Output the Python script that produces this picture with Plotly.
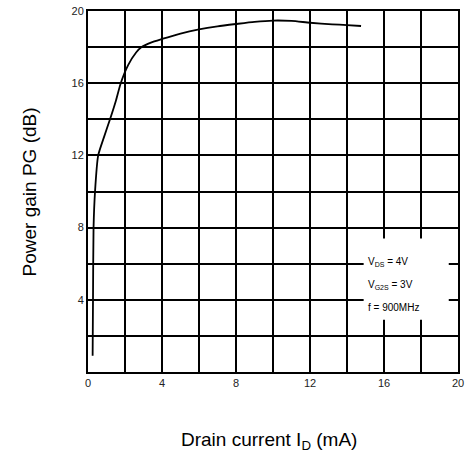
import plotly.graph_objects as go

# Curve data
drain_current = [0.25, 0.27, 0.3, 0.38, 0.55, 0.86, 1.19, 1.5, 1.77, 2.17, 2.6, 2.9, 3.4, 4.0, 5.0, 6.0, 7.0, 8.0, 9.0, 10.0, 11.0, 12.0, 13.2, 14.0, 14.76]
power_gain = [0.9, 4.0, 8.0, 10.0, 12.0, 13.0, 14.0, 15.0, 16.0, 17.0, 17.7, 18.0, 18.25, 18.45, 18.75, 18.98, 19.15, 19.28, 19.4, 19.47, 19.45, 19.35, 19.26, 19.22, 19.17]

x_tick_vals = [0, 4, 8, 12, 16, 20]
y_tick_vals = [4, 8, 12, 16, 20]

cond_lines = ["V<sub>DS</sub> = 4V", "V<sub>G2S</sub> = 3V", "f = 900MHz"]
cond_y = [6.1, 4.8, 3.55]

fig = go.Figure()
fig.add_trace(go.Scatter(
    x=drain_current, y=power_gain, mode="lines",
    line=dict(color="black", width=1.8, shape="spline", smoothing=0.6),
    showlegend=False, hoverinfo="skip"))

fig.add_shape(type="rect", xref="x", yref="y", x0=14.9, x1=19.5, y0=2.9, y1=7.4,
              fillcolor="white", line=dict(width=0), layer="above")

for t, yy in zip(cond_lines, cond_y):
    fig.add_annotation(x=15.05, y=yy, xref="x", yref="y", text=t, showarrow=False,
                       xanchor="left", yanchor="middle",
                       font=dict(family="Liberation Sans", size=10, color="black"))

fig.add_annotation(x=0.49, y=-0.19, xref="paper", yref="paper",
                   text="Drain current I<sub>D</sub> (mA)", showarrow=False,
                   xanchor="center", yanchor="middle",
                   font=dict(family="Liberation Sans", size=19, color="black"))
fig.add_annotation(x=-0.157, y=0.5, xref="paper", yref="paper",
                   text="Power gain PG (dB)", showarrow=False, textangle=-90,
                   xanchor="center", yanchor="middle",
                   font=dict(family="Liberation Sans", size=19, color="black"))

axis_common = dict(
    range=[0, 20], showgrid=True, gridcolor="black", gridwidth=2,
    showline=True, linecolor="black", linewidth=2, mirror=True, ticks="",
    zeroline=False, tickfont=dict(family="Liberation Sans", size=11, color="#222"),
    minor=dict(tick0=0, dtick=2, showgrid=True, gridcolor="black", gridwidth=2, ticks=""),
    automargin=False, fixedrange=True)

fig.update_xaxes(**axis_common, tickmode="array", tickvals=x_tick_vals)
fig.update_yaxes(**axis_common, tickmode="array", tickvals=y_tick_vals)

fig.update_layout(
    width=476, height=458,
    margin=dict(l=88, r=18, t=11, b=86),
    paper_bgcolor="white", plot_bgcolor="white",
    showlegend=False)

# remove the default page body margin so the figure sits at the window origin
fig.write_html("out.html", config={"displayModeBar": False},
               post_script="document.body.style.margin='0';")
